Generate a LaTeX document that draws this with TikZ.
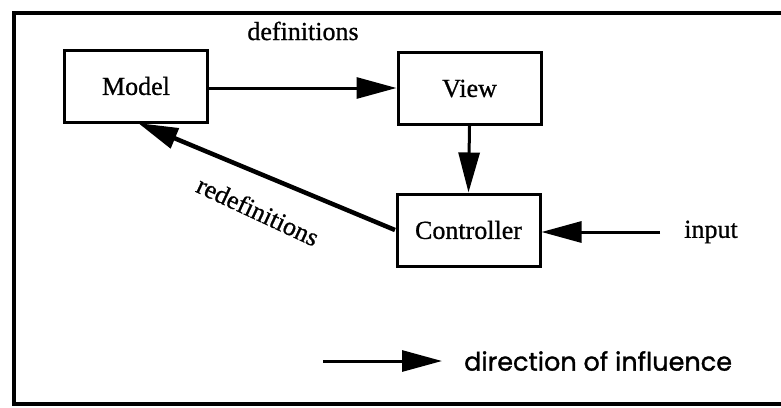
\documentclass[tikz,border=0pt]{standalone}
\usepackage{fontspec}
\setmainfont[FakeBold=0.8]{Liberation Serif}
\newfontfamily\legendfont[FakeBold=1.2]{Poppins}
\usetikzlibrary{arrows.meta}
\begin{document}
\begin{tikzpicture}[x=1pt,y=-1pt,
  box/.style={draw,line width=3pt,minimum width=143pt,minimum height=72pt,inner sep=0pt,font=\fontsize{26}{28}\selectfont},
  lbl/.style={font=\fontsize{26}{28}\selectfont,inner sep=0pt},
  conn/.style={line width=3pt,-{Triangle[length=40pt,width=21pt]}}]
\useasboundingbox (0,0) rectangle (781,407);
\draw[line width=3.2pt] (781,13) -- (14,13) -- (14,404) -- (781,404);
\node[box] (model) at (136,86) {Model};
\node[box] (view) at (469.5,88.5) {View};
\node[box] (ctrl) at (468.5,230) {Controller};
\coordinate (defy) at (0,88);
\draw[conn] (model.east |- defy) -- (view.west |- defy);
\node[lbl] (deflbl) at (303,31) {definitions};
\draw[conn] (view.south) -- (ctrl.north);
\coordinate (redstart) at (395,230);
\coordinate (redend) at (138,123);
\draw[conn,line width=4.5pt] (redstart) -- (redend);
\node[lbl,rotate=-25] (redlbl) at (258,211) {redefinitions};
\coordinate (inend) at (660,232);
\draw[conn] (inend) -- (ctrl.east |- inend);
\node[lbl] (inlbl) at (711,232) {input};
\coordinate (lga) at (323,361);
\coordinate (lgb) at (442,361);
\draw[conn] (lga) -- (lgb);
\node[font=\legendfont\fontsize{25.5}{28}\selectfont,anchor=west,inner sep=0pt] (lgtxt) at (464,361) {direction of influence};
\end{tikzpicture}
\end{document}
